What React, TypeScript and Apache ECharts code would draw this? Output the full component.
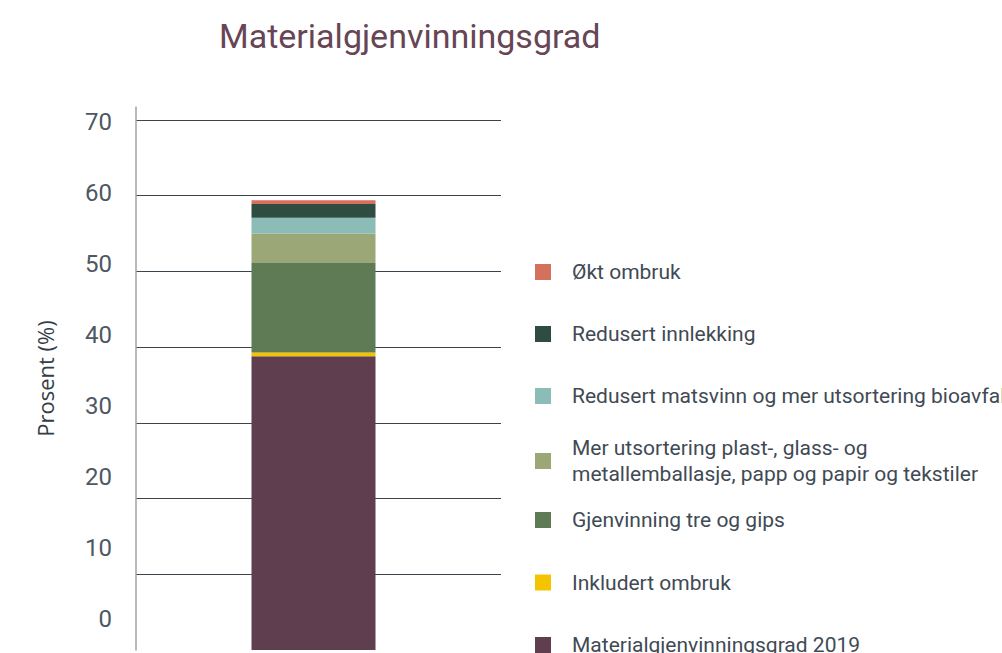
import React, { useEffect, useRef } from "react";
import * as echarts from "echarts";

const titleText = "Materialgjenvinningsgrad";
const axisName = "Prosent (%)";
const categories = [""];
const tickLabels = [0, 10, 20, 30, 40, 50, 60, 70];

// bottom-to-top stack order
const seriesNames = [
  "Materialgjenvinningsgrad 2019",
  "Inkludert ombruk",
  "Gjenvinning tre og gips",
  "Mer utsortering plast-, glass- og metallemballasje, papp og papir og tekstiler",
  "Redusert matsvinn og mer utsortering bioavfall",
  "Redusert innlekking",
  "Økt ombruk",
];
const seriesValues = [38.8, 0.5, 11.8, 3.9, 2.1, 1.8, 0.5];
const seriesColors = ["#5f3f4f", "#f5c400", "#5f7b56", "#9ba776", "#8bbcb6", "#2f4c41", "#d5705f"];

const legendLabels: Record<string, string> = {
  "Mer utsortering plast-, glass- og metallemballasje, papp og papir og tekstiler":
    "Mer utsortering plast-, glass- og\nmetallemballasje, papp og papir og tekstiler",
};

export default function App() {
  const ref = useRef<HTMLDivElement>(null);
  useEffect(() => {
    if (!ref.current) return;
    const chart = echarts.init(ref.current, null, { renderer: "svg" });
    const font = "Roboto";
    const legendBase = {
      orient: "vertical",
      left: 530,
      icon: "rect",
      itemWidth: 16,
      itemHeight: 16,
      selectedMode: false,
      formatter: (n: string) => legendLabels[n] || n,
    };
    const legendText = (lh: number) => ({
      fontFamily: font,
      fontSize: 21,
      color: "#3f4a54",
      lineHeight: lh,
      padding: [0, 0, 0, 16],
    });
    const yMax = 71.72;
    chart.setOption({
      animation: false,
      title: {
        text: titleText,
        left: 214,
        top: 14,
        textStyle: { fontFamily: font, fontSize: 34, fontWeight: "normal", color: "#674555" },
      },
      grid: [
        { left: 136, right: 501, top: 107, bottom: 50, containLabel: false },
        { left: 126, right: 501, top: 107, bottom: 50, containLabel: false },
      ],
      legend: [
        {
          ...legendBase,
          top: 255,
          itemGap: 38,
          data: [seriesNames[6], seriesNames[5], seriesNames[4]],
          textStyle: legendText(24),
        },
        {
          ...legendBase,
          top: 430,
          itemGap: 38,
          data: [seriesNames[3]],
          textStyle: legendText(26),
        },
        {
          ...legendBase,
          top: 503,
          itemGap: 38.5,
          data: [seriesNames[2], seriesNames[1], seriesNames[0]],
          textStyle: legendText(24),
        },
      ],
      xAxis: [
        {
          type: "category",
          gridIndex: 0,
          data: categories,
          axisLine: { show: false },
          axisTick: { show: false },
          axisLabel: { show: false },
        },
        {
          type: "category",
          gridIndex: 1,
          data: categories,
          axisLine: { show: false },
          axisTick: { show: false },
          axisLabel: { show: false },
        },
      ],
      yAxis: [
        {
          type: "value",
          gridIndex: 0,
          min: 0,
          max: yMax,
          interval: 10,
          axisLine: { show: true, lineStyle: { color: "#9ea3a7", width: 1.5 } },
          axisTick: { show: false },
          axisLabel: { show: false },
          splitLine: {
            show: true,
            showMinLine: false,
            showMaxLine: false,
            lineStyle: { color: "#3a454e", width: 1 },
          },
        },
        {
          type: "value",
          gridIndex: 0,
          position: "left",
          min: -4.32,
          max: 72.05,
          axisLine: { show: false },
          axisTick: { show: false },
          splitLine: { show: false },
          axisLabel: {
            customValues: tickLabels,
            margin: 24,
            fontFamily: font,
            fontSize: 24,
            color: "#4d5862",
          },
          name: axisName,
          nameLocation: "middle",
          nameRotate: 90,
          nameGap: 80,
          nameTextStyle: { fontFamily: "Open Sans", fontSize: 22, color: "#333d45" },
        },
        {
          type: "value",
          gridIndex: 1,
          min: 0,
          max: yMax,
          interval: 10,
          axisLine: { show: false },
          axisTick: { show: false },
          axisLabel: { show: false },
          splitLine: { show: false },
        },
      ],
      series: seriesNames.map((name, i) => ({
        name,
        type: "bar",
        stack: "total",
        barWidth: 124,
        xAxisIndex: 1,
        yAxisIndex: 2,
        itemStyle: { color: seriesColors[i] },
        data: [seriesValues[i]],
      })),
    });
    return () => chart.dispose();
  }, []);
  return (
    <div style={{ position: "absolute", left: 0, top: 0, width: 1002, height: 653, overflow: "hidden", background: "#fff" }}>
      <div ref={ref} style={{ width: 1002, height: 700 }} />
    </div>
  );
}
